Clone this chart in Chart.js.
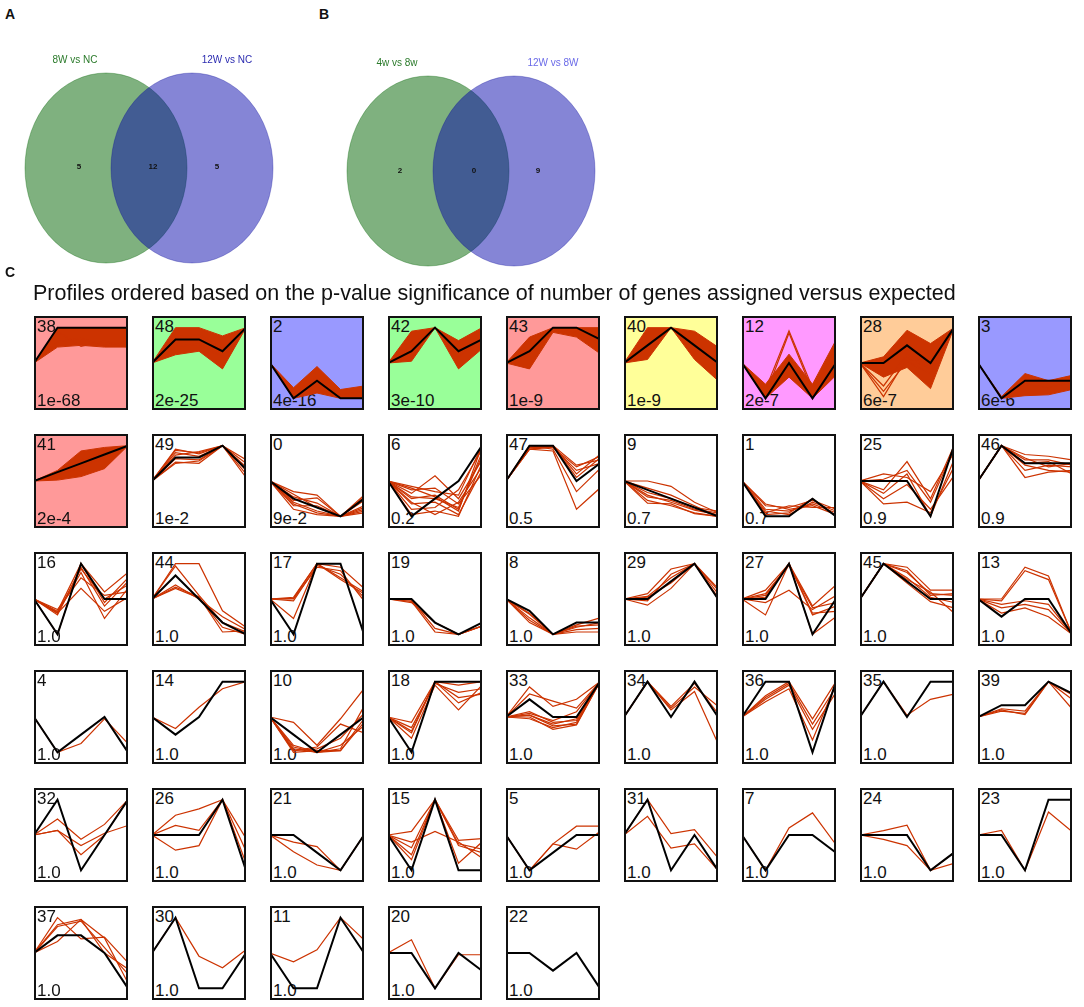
<!DOCTYPE html>
<html>
<head>
<meta charset="utf-8">
<title>Venn diagrams and STEM profiles</title>
<script src="https://cdn.jsdelivr.net/npm/chart.js@4.4.1/dist/chart.umd.min.js"></script>
<style>
    body { margin: 0; background: #fff; font-family: "Liberation Sans", Arial, sans-serif; color: #111; }
    #page { position: relative; width: 1084px; height: 1007px; overflow: hidden; }
    .txt { position: absolute; white-space: nowrap; }
    .letter { font-weight: bold; font-size: 14px; line-height: 14px; }
    .vlabel { font-size: 10px; line-height: 10px; transform: translateX(-50%); }
    .vcount { font-size: 8px; line-height: 8px; font-weight: bold; transform: translate(-50%, -50%); }
    .panel { position: absolute; width: 94px; height: 94px; }
    .panel canvas { position: absolute; left: 0; top: 0; }
    .panel .frame { position: absolute; left: 0; top: 0; width: 94px; height: 94px; box-sizing: border-box; border: 2px solid #111; }
    .pid, .pval { position: absolute; left: 3px; font-size: 17px; line-height: 17px; color: #111; }
    .pid { top: 2px; }
    .pval { bottom: 1px; }
</style>
</head>
<body>
<div id="page"></div>
<script>

// Venn data (panels A and B)
var vennSets = [['8W vs NC', '12W vs NC'], ['4w vs 8w', '12W vs 8W']];
var vennCounts = [[5, 12, 5], [2, 0, 9]];

// STEM profiles (panel C), in the order shown
var timePoints = ['T1', 'T2', 'T3', 'T4', 'T5'];

var profileIds = [38, 48, 2, 42, 43, 40, 12, 28, 3,
    41, 49, 0, 6, 47, 9, 1, 25, 46,
    16, 44, 17, 19, 8, 29, 27, 45, 13,
    4, 14, 10, 18, 33, 34, 36, 35, 39,
    32, 26, 21, 15, 5, 31, 7, 24, 23,
    37, 30, 11, 20, 22];

var profilePValues = ['1e-68', '2e-25', '4e-16', '3e-10', '1e-9', '1e-9', '2e-7', '6e-7', '6e-6',
    '2e-4', '1e-2', '9e-2', '0.2', '0.5', '0.7', '0.7', '0.9', '0.9',
    '1.0', '1.0', '1.0', '1.0', '1.0', '1.0', '1.0', '1.0', '1.0',
    '1.0', '1.0', '1.0', '1.0', '1.0', '1.0', '1.0', '1.0', '1.0',
    '1.0', '1.0', '1.0', '1.0', '1.0', '1.0', '1.0', '1.0', '1.0',
    '1.0', '1.0', '1.0', '1.0', '1.0'];

var modelProfiles = [
    [0, 1, 1, 1, 1], [0, 2, 2, 1, 3], [0, -2, -1, -2, -2], [0, 1, 3, 1, 2], [0, 1, 3, 3, 2],
    [0, 1, 2, 1, 0], [0, -1, 0, -1, 0], [0, 0, 1, 0, 2], [0, -2, -1, -1, -1],
    [0, 1, 2, 3, 4], [0, 2, 2, 3, 1], [0, -2, -3, -4, -2], [0, -2, -1, 0, 2], [0, 2, 2, 0, 1],
    [0, -1, -2, -3, -4], [0, -2, -2, -1, -2], [0, 0, 0, -1, 1], [0, 2, 1, 1, 1],
    [0, -1, 1, 0, 0], [0, 2, 0, -2, -3], [0, -1, 1, 1, -1], [0, 0, -2, -3, -2], [0, -1, -3, -2, -2],
    [0, 0, 1, 2, 0], [0, 0, 1, -1, 0], [0, 2, 1, 0, 0], [0, -1, 0, 0, -2],
    [0, -2, -1, 0, -2], [0, -1, 0, 2, 2], [0, -1, -2, -1, 0], [0, -1, 1, 1, 1], [0, 1, 0, 0, 2],
    [0, 1, 0, 1, 0], [0, 1, 1, -1, 1], [0, 1, 0, 1, 1], [0, 1, 1, 3, 2],
    [0, 1, -1, 0, 1], [0, 0, 0, 1, -1], [0, 0, -1, -2, 0], [0, -1, 1, -1, -1], [0, -2, -1, 0, 0],
    [0, 1, -1, 0, -1], [0, -2, 0, 0, -1], [0, 0, 0, -2, -1], [0, 0, -1, 1, 1],
    [0, 1, 1, 0, -2], [0, 1, -1, -1, 0], [0, -1, -1, 1, 0], [0, 0, -2, 0, -1], [0, 0, -1, 0, -2]
];

// lower / upper edge of the dense gene bundles (null = no bundle)
var bundleLow = [
    [0, 0.45, 0.5, 0.45, 0.45], [0, 0.7, 1, -0.5, 3], [0, -2, -1.7, -2, -2], [0, 0.15, 3, -0.5, 1.2],
    [0, -0.5, 2.6, 2.2, 0.8], [0, 0.2, 2, 0.2, -1], [0, -1, -0.4, -1, -0.35], [0, -0.8, -0.25, -1.45, 2],
    [0, -2, -1.85, -1.8, -1.5], [0, 0.1, 0.5, 1.4, 4]
];
var bundleHigh = [
    [0, 1, 1, 1, 1], [0, 3, 3, 2.3, 3], [0, -1.4, -0.2, -1.5, -1.3], [0, 2.7, 3, 1.9, 3],
    [0, 2.2, 3, 3, 3], [0, 2, 2, 1.8, 0.9], [0, -0.6, 0.25, -0.6, 0.65], [0, 0.35, 1.85, 1.1, 2],
    [0, -1.9, -0.6, -1.0, -0.7], [0, 1.2, 3.4, 3.8, 4]
];

var geneProfiles = [
    // row 1
    [[0, 0.9, 0.47, 0.62, 0.45], [0, 0.6, 0.7, 0.5, 0.6]],
    [[0, 1.4, 1.6, 0.5, 3], [0, 2.2, 2.4, 1.2, 3]],
    [[0, -1.7, -0.8, -1.8, -1.6]],
    [[0, 1.5, 3, 0.5, 2.2]],
    [[0, 0.8, 2.8, 2.6, 1.6]],
    [[0, 1, 2, 1.2, 0]],
    [[0, -0.75, 0.91, -0.7, 0.2], [0, -0.9, 0.85, -0.8, 0.4]],
    [[0, -1.9, 0.3, -0.3, 2], [0, -1.6, 0.1, -0.6, 2], [0, -1.3, 0.5, -0.2, 2]],
    [[0, -2, -1.2, -1.4, -1.1]],
    // row 2
    [[0, 0.6, 1.6, 2.6, 4], [0, 0.9, 2.4, 3.2, 4]],
    [[0, 2.6, 2.4, 3, 1.2], [0, 2.2, 2.5, 3, 0.6], [0, 1.6, 1.5, 3, 1.8], [0, 2.4, 2.1, 3, 0.3],
        [0, 1.9, 1.8, 3, 1.5], [0, 2.7, 2.3, 3, 0.9], [0, 1.5, 1.7, 3, 1.0]],
    [[0, -1.2, -1.6, -4, -2.2], [0, -1.8, -2.5, -4, -3.6], [0, -2.6, -3.6, -4, -3.2], [0, -3.2, -3.8, -4, -1.8],
        [0, -2.2, -1.9, -4, -2.8], [0, -1.5, -3.0, -4, -3.4], [0, -2.8, -2.8, -4, -1.6], [0, -2.4, -3.4, -4, -3.0]],
    [[0, -0.3, -0.6, -0.8, 2], [0, -0.7, 0.3, -1.0, 1.2], [0, -1.0, -0.8, -1.6, 1.6], [0, -1.3, -1.2, -1.9, 0.6],
        [0, -0.5, -0.4, -1.3, 0.4], [0, -1.6, -1.5, -0.5, 1.8], [0, -1.9, -1.7, -2.0, 1.0], [0, -0.9, -1.0, -1.5, 1.4],
        [0, -1.2, -1.9, -1.2, 0.8], [0, -0.4, -0.9, -1.7, 2]],
    [[0, 1.9, 2, 0.4, 1.5], [0, 1.8, 1.9, 0.8, 1.4], [0, 2, 1.8, -0.6, 0.7], [0, 1.8, 1.7, -1.6, -0.4],
        [0, 2, 2, 0.9, 1.2], [0, 1.9, 1.9, 0.6, 1.0], [0, 1.8, 2, 0.2, 1.3]],
    [[0, 0, -0.6, -2.4, -3.6], [0, -0.8, -1.6, -2.8, -4], [0, -1.6, -2.4, -3.3, -3.8], [0, -2.2, -2.8, -3.6, -4],
        [0, -1.3, -2.0, -3.0, -3.4], [0, -2.5, -2.6, -3.7, -4], [0, -1.8, -2.2, -3.2, -3.6]],
    [[0, -1.4, -1.5, -1.1, -1.6], [0, -1.6, -1.7, -1.3, -1.8], [0, -1.8, -1.4, -1.5, -1.5],
        [0, -1.9, -1.8, -1.0, -2], [0, -1.3, -1.6, -1.4, -1.9], [0, -1.7, -1.9, -1.2, -1.7]],
    [[0, 0.2, 0.1, -0.3, 0.8], [0, -0.25, 0.55, -0.5, 1.0], [0, -0.35, 0.2, -1.0, 0.6],
        [0, -0.65, -0.6, -0.9, 0.4], [0, 0.05, 0.3, -0.6, 0.9], [0, -0.5, -0.1, -0.8, 0.15]],
    [[0, 2, 1.5, 1.4, 1.2], [0, 2, 1.2, 1.2, 0.9], [0, 2, 0.9, 0.6, 0.5], [0, 2, 0.6, 0.9, 0.8],
        [0, 2, 0.2, 0.5, 0.6], [0, 2, 1.3, 0.8, 1.0], [0, 2, 1.0, 1.1, 0.4]],
    // row 3
    [[0, -0.35, 1, 0.2, 0.75], [0, -0.45, 0.9, -0.2, 0.5], [0, -0.4, 0.75, -0.55, 0.3], [0, -0.3, 0.6, 0.1, 0.2],
        [0, -1.0, 1, -0.1, 0.6], [0, -0.4, 0.3, -0.35, 0.05], [0, -0.38, 0.85, 0.0, 0.4]],
    [[0, 3, 3, -1.0, -2.4], [0, 2.8, 0.3, -2.0, -2.8], [0, 1.2, 0, -1.5, -2.6], [0, 0.9, 0.1, -2.4, -3],
        [0, 1.0, 0.2, -2.8, -2.7]],
    [[0, 0.05, 1, 0.9, 0.3], [0, -0.05, 0.95, 0.7, 0.05], [0, -0.55, 1, 0.55, 0.15], [0, 0, 0.9, 0.8, -0.05],
        [0, 0.02, 1, 0.6, 0.2]],
    [[0, -0.2, -2.8, -3, -2.3], [0, -0.3, -2.0, -3, -2.3], [0, -0.1, -2.5, -3, -2.3]],
    [[0, -1.3, -3, -2.2, -1.6], [0, -1.6, -3, -2.4, -2], [0, -2, -3, -2.6, -2.5], [0, -1.8, -3, -2.8, -2.8],
        [0, -1.2, -3, -2.3, -2.2]],
    [[0, 0.3, 1.7, 2, 0.5], [0, -0.35, 0.6, 2, 0], [0, 0.15, 1.2, 2, 0.3], [0, 0.1, 0.9, 2, 0.6],
        [0, -0.1, 1.4, 2, 0.1]],
    [[0, 0.25, 1, -0.2, 0.4], [0, 0.1, 1, -0.4, -0.35], [0, -0.45, 1, -0.45, -0.2], [0, -0.1, 0.25, -0.3, 0.1],
        [0, 0.05, 1, -1, -0.5], [0, 0.15, 0.95, -0.25, -0.1]],
    [[0, 2, 1.8, 0.5, 0.5], [0, 2, 1.5, 0.3, 0.2], [0, 2, 1.2, 0.1, -0.2], [0, 2, 0.9, -0.15, -0.5],
        [0, 2, 1.1, 0.4, -0.8], [0, 2, 1.6, 0.2, 0.3]],
    [[0, 0, 1.8, 1.3, -2], [0, -0.1, 1.6, 1.1, -2], [0, -0.5, -0.3, -0.6, -2], [0, -0.8, -0.5, -1.0, -2],
        [0, -0.3, -0.1, -0.3, -2]],
    // row 4
    [[0, -2, -1.5, -0.1, -1.5]],
    [[0, -0.65, 0.55, 1.6, 2]],
    [[0, -0.3, -1.6, -0.1, 1.6], [0, -1.8, -2, -1.8, 0.6], [0, -1.9, -1.7, -0.4, -0.9], [0, -2, -1.9, -1.9, -0.3],
        [0, -1.7, -2, -1.6, -0.5], [0, -1.9, -1.8, -1.2, 0.2], [0, -1.6, -2, -1.9, -0.1]],
    [[0, -0.15, 1, 0.9, 1], [0, -0.3, 0.95, 0.7, 0.8], [0, -0.45, 1, 0.55, 0.65], [0, -0.6, 0.9, 0.2, 0.9],
        [0, -0.4, 1, 0.4, 0.7]],
    [[0, 1.7, 0.6, 1.0, 2], [0, 1.3, 0.9, 0.5, 2], [0, 0.3, -0.3, -0.2, 2], [0, 0.1, -0.5, -0.4, 2],
        [0, 0, -0.7, -0.45, 2], [0, 0.2, -0.2, 0.3, 2], [0, -0.1, -0.6, -0.3, 2], [0, 0.1, -0.4, -0.1, 2]],
    [[0, 1, 0.25, 0.85, 0.3], [0, 1, 0.2, 0.72, -0.75], [0, 1, 0.3, 0.95, 0.1]],
    [[0, 0.6, 1, -0.05, 1], [0, 0.5, 0.9, -0.35, 0.7], [0, 0.43, 0.8, -0.65, 0.95], [0, 0.55, 0.95, -0.2, 0.85]],
    [[0, 1, 0.05, 0.5, 0.65]],
    [[0, 0.7, 0.5, 3, 1.9], [0, 0.5, 0.3, 3, 0.7], [0, 0.6, 0.2, 3, 1.5]],
    // row 5
    [[0, 0.45, -0.12, 0.3, 1], [0, 0.13, -0.56, 0, 1], [0, 0.13, -0.3, 0.05, 0.27]],
    [[0, 0.56, 0.74, 1, -0.1], [0, 0.27, 0.13, 1, -0.45], [0, -0.43, -0.3, 1, -0.8]],
    [[0, -0.4, -0.66, -2, 0], [0, -0.95, -1.7, -2, 0]],
    [[0, 0.1, 1, -0.15, -0.1], [0, -0.36, 1, -0.25, -0.4], [0, -0.56, 1, -0.3, -0.5], [0, -0.7, 1, -0.8, -0.2],
        [0, -0.2, 0.1, -0.2, -0.65]],
    [[0, -2, -0.5, 0.5, 0.5], [0, -2, -0.5, -0.8, 0.2]],
    [[0, 1, 0.04, 0.15, -0.65], [0, 0.53, -0.37, -0.25, -1]],
    [[0, -2, 0.4, 1.25, -0.55]],
    [[0, 0.25, 0.55, -2, -1], [0, -0.25, -0.6, -2, -1.6]],
    [[0, 0.13, -1, 0.65, 0.1]],
    // row 6
    [[0, 2, 0.8, 0.9, -0.55], [0, 1.6, 1.9, 0.0, -0.9], [0, 0.65, 1.9, 0.85, -1.7], [0, 1.5, 1.8, 0.3, -1.2]],
    [[0, 1, -0.09, -0.42, 0.09]],
    [[0, -0.25, 0.09, 1, 0.37]],
    [[0, 0.75, -2, -0.1, -0.1]],
    []
];

// significant profiles get a coloured box
var boxColours = {
    38: '#ff9999', 43: '#ff9999', 41: '#ff9999',
    48: '#99ff99', 42: '#99ff99',
    2: '#9999ff', 3: '#9999ff',
    40: '#ffff99', 12: '#ff99ff', 28: '#ffcc99'
};

var GENE_RED = '#cc3300';
var page = document.getElementById('page');

function addText(cls, text, x, y, colour) {
    var el = document.createElement('div');
    el.className = 'txt ' + cls;
    el.textContent = text;
    el.style.left = x + 'px';
    el.style.top = y + 'px';
    if (colour) el.style.color = colour;
    page.appendChild(el);
    return el;
}

// ---------- Venn diagrams ----------

function ellipseSprite(w, h, fill, stroke) {
    var c = document.createElement('canvas');
    c.width = w + 2;
    c.height = h + 2;
    var g = c.getContext('2d');
    g.beginPath();
    g.ellipse(c.width / 2, c.height / 2, w / 2, h / 2, 0, 0, Math.PI * 2);
    g.fillStyle = fill;
    g.fill();
    g.strokeStyle = stroke;
    g.lineWidth = 1;
    g.stroke();
    return c;
}

var greenSprite = ellipseSprite(162, 190, 'rgba(0, 100, 0, 0.5)', 'rgba(0, 100, 0, 0.35)');
var blueSprite = ellipseSprite(162, 190, 'rgba(0, 0, 170, 0.48)', 'rgba(0, 0, 150, 0.3)');

var vennLayout = [
    { left: 14, top: 43, step: 90, labelY: 55, labelX: [75, 227], countY: 167, countX: [79, 153, 217] },
    { left: 336, top: 46, step: 90, labelY: 58, labelX: [397, 553], countY: 171, countX: [400, 474, 538] }
];
var vennLabelColours = [['#2a7a2a', '#2b2bb0'], ['#2a7a2a', '#6a6ae8']];

vennSets.forEach(function(sets, v) {
    var lay = vennLayout[v];
    var cv = document.createElement('canvas');
    cv.width = lay.step * 3;
    cv.height = 250;
    cv.style.position = 'absolute';
    cv.style.left = lay.left + 'px';
    cv.style.top = lay.top + 'px';
    page.appendChild(cv);

    // lower order is painted last, so the blue set sits on top of the green one
    new Chart(cv.getContext('2d'), {
        type: 'scatter',
        data: {
            datasets: [{
                label: sets[0],
                data: [{ x: 0, y: 0 }],
                pointStyle: greenSprite,
                pointRadius: 5,
                order: 2,
                clip: false
            }, {
                label: sets[1],
                data: [{ x: 1, y: 0 }],
                pointStyle: blueSprite,
                pointRadius: 5,
                order: 1,
                clip: false
            }]
        },
        options: {
            responsive: false,
            animation: false,
            events: [],
            layout: { padding: 0 },
            plugins: { legend: { display: false }, tooltip: { enabled: false } },
            scales: {
                x: { display: false, min: -1, max: 2 },
                y: { display: false, min: -1, max: 1 }
            }
        }
    });

    addText('vlabel', sets[0], lay.labelX[0], lay.labelY, vennLabelColours[v][0]);
    addText('vlabel', sets[1], lay.labelX[1], lay.labelY, vennLabelColours[v][1]);
    vennCounts[v].forEach(function(n, k) {
        addText('vcount', String(n), lay.countX[k], lay.countY);
    });
});

addText('letter', 'A', 5, 7);
addText('letter', 'B', 319, 7);
addText('letter', 'C', 5, 265);

var title = addText('', 'Profiles ordered based on the p-value significance of number of genes assigned versus expected', 33, 283);
title.style.fontSize = '21.5px';
title.style.lineHeight = '21px';

// ---------- STEM profile boxes ----------

var GRID = { left: 34, top: 316, dx: 118, dy: 118, cols: 9, size: 94 };

profileIds.forEach(function(id, i) {
    var col = i % GRID.cols, row = Math.floor(i / GRID.cols);
    var box = document.createElement('div');
    box.className = 'panel';
    box.style.left = (GRID.left + col * GRID.dx) + 'px';
    box.style.top = (GRID.top + row * GRID.dy) + 'px';
    box.style.background = boxColours[id] || '#fff';

    var pid = document.createElement('div');
    pid.className = 'pid';
    pid.textContent = String(id);
    var pval = document.createElement('div');
    pval.className = 'pval';
    pval.textContent = profilePValues[i];
    box.appendChild(pid);
    box.appendChild(pval);

    var cv = document.createElement('canvas');
    cv.width = GRID.size;
    cv.height = GRID.size;
    box.appendChild(cv);

    var frame = document.createElement('div');
    frame.className = 'frame';
    box.appendChild(frame);
    page.appendChild(box);

    var model = modelProfiles[i];
    var span = Math.max.apply(null, model.map(Math.abs)) * 1.33;

    var datasets = [];
    if (bundleLow[i]) {
        datasets.push({ data: bundleLow[i], borderColor: GENE_RED, borderWidth: 1, fill: false, order: 2 });
        datasets.push({ data: bundleHigh[i], borderColor: GENE_RED, borderWidth: 1, backgroundColor: GENE_RED, fill: '-1', order: 2 });
    }
    geneProfiles[i].forEach(function(g) {
        datasets.push({ data: g, borderColor: GENE_RED, borderWidth: 1.2, fill: false, order: 1 });
    });
    // model profile painted last (on top)
    datasets.push({ label: 'Profile ' + id, data: model, borderColor: '#000', borderWidth: 2, fill: false, order: 0 });

    new Chart(cv.getContext('2d'), {
        type: 'line',
        data: { labels: timePoints, datasets: datasets },
        options: {
            responsive: false,
            animation: false,
            events: [],
            layout: { padding: 0 },
            elements: { point: { radius: 0 }, line: { tension: 0 } },
            plugins: { legend: { display: false }, tooltip: { enabled: false } },
            scales: {
                x: { display: false, offset: false },
                y: { display: false, min: -span, max: span }
            }
        }
    });
});
</script>
</body>
</html>
